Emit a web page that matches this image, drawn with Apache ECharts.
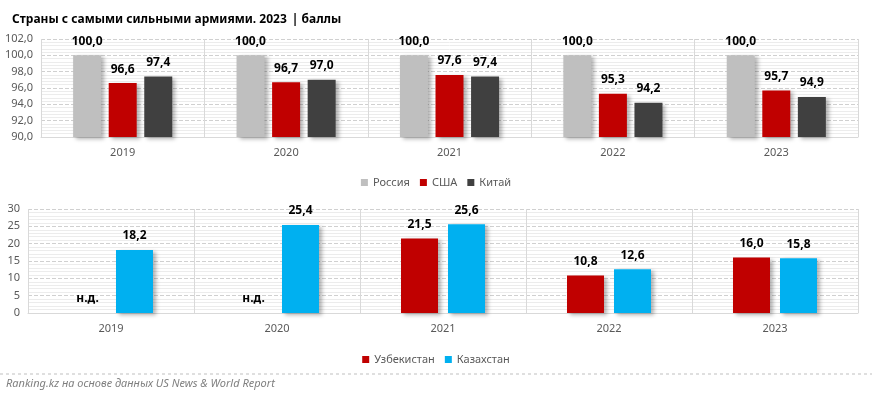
<!DOCTYPE html>
<html>
<head>
<meta charset="utf-8">
<script src="https://cdn.jsdelivr.net/npm/echarts@6/dist/echarts.min.js"></script>
<style>
  html, body { margin: 0; padding: 0; background: #fff; }
  #main { width: 872px; height: 397px; }
</style>
</head>
<body>
<div id="main"></div>
<script>
  // данные
  var years = ['2019', '2020', '2021', '2022', '2023'];
  var russia = [100.0, 100.0, 100.0, 100.0, 100.0];
  var usa = [96.6, 96.7, 97.6, 95.3, 95.7];
  var china = [97.4, 97.0, 97.4, 94.2, 94.9];
  // н.д. = нет данных
  var uzbekistan = [null, null, 21.5, 10.8, 16.0];
  var kazakhstan = [18.2, 25.4, 25.6, 12.6, 15.8];

  var font = 'Noto Sans';
  function comma(v) { return v.toFixed(1).replace('.', ','); }

  var labelTop = {
    show: true, position: 'top', distance: 8,
    fontFamily: font, fontSize: 12, fontWeight: 'bold', color: '#000',
    formatter: function (p) { return p.data === 0 ? 'н.д.' : comma(p.value); }
  };
  var shadow = { shadowColor: 'rgba(0,0,0,0.3)', shadowBlur: 4, shadowOffsetX: 3, shadowOffsetY: 2 };

  function bar(name, data, color, axis, width, gap, catGap) {
    return {
      name: name, type: 'bar', xAxisIndex: axis, yAxisIndex: axis,
      data: data.map(function (v) { return v === null ? 0 : v; }),
      barWidth: width, barGap: gap, barCategoryGap: catGap,
      itemStyle: Object.assign({ color: color }, shadow),
      label: labelTop
    };
  }

  var xAxisBase = {
    type: 'category',
    axisTick: { show: false },
    axisLine: { lineStyle: { color: '#d9d9d9' } },
    splitLine: { show: true, lineStyle: { color: '#d9d9d9' } },
    axisLabel: { fontFamily: font, fontSize: 11, color: '#595959', margin: 10 }
  };
  var yAxisBase = {
    type: 'value',
    axisLine: { show: false },
    axisTick: { show: false },
    splitLine: { lineStyle: { color: '#d0d0d0', type: 'dashed' } },
    minorTick: { show: false, splitNumber: 5 },
    minorSplitLine: { show: true, lineStyle: { color: '#ececec' } },
    axisLabel: { fontFamily: font, fontSize: 11, color: '#595959', margin: 8 }
  };

  var chart = echarts.init(document.getElementById('main'));
  chart.setOption({
    animation: false,
    title: {
      left: 7, top: 6,
      text: '{b|Страны с самыми сильными армиями. 2023} {n|| баллы}',
      textStyle: {
        rich: {
          b: { fontFamily: font, fontSize: 12, fontWeight: 'bold', color: '#000' },
          n: { fontFamily: font, fontSize: 12, color: '#000' }
        }
      }
    },
    legend: [
      {
        data: ['Россия', 'США', 'Китай'], top: 172, left: 'center',
        icon: 'rect', itemWidth: 7, itemHeight: 7, itemGap: 10, itemStyle: { shadowBlur: 0, shadowOffsetX: 0, shadowOffsetY: 0 },
        textStyle: { fontFamily: font, fontSize: 11, color: '#595959' }
      },
      {
        data: ['Узбекистан', 'Казахстан'], top: 349, left: 'center',
        icon: 'rect', itemWidth: 7, itemHeight: 7, itemGap: 10, itemStyle: { shadowBlur: 0, shadowOffsetX: 0, shadowOffsetY: 0 },
        textStyle: { fontFamily: font, fontSize: 11, color: '#595959' }
      }
    ],
    grid: [
      { left: 41, right: 14, top: 39, height: 98 },
      { left: 28, right: 14, top: 209, height: 104 }
    ],
    xAxis: [
      Object.assign({ gridIndex: 0, data: years }, xAxisBase),
      Object.assign({ gridIndex: 1, data: years }, xAxisBase)
    ],
    yAxis: [
      Object.assign({}, yAxisBase, {
        gridIndex: 0, min: 90, max: 102, interval: 2,
        axisLabel: Object.assign({}, yAxisBase.axisLabel, { formatter: function (v) { return comma(v); } })
      }),
      Object.assign({}, yAxisBase, { gridIndex: 1, min: 0, max: 30, interval: 5 })
    ],
    series: [
      bar('Россия', russia, '#bfbfbf', 0, 28, '27%', '38%'),
      bar('США', usa, '#c00000', 0, 28, '27%', '38%'),
      bar('Китай', china, '#404040', 0, 28, '27%', '38%'),
      bar('Узбекистан', uzbekistan, '#c00000', 1, 37, '27%', '49%'),
      bar('Казахстан', kazakhstan, '#00b0f0', 1, 37, '27%', '49%')
    ],
    graphic: [
      {
        type: 'line', shape: { x1: 0, y1: 374, x2: 872, y2: 374 },
        style: { stroke: '#bfbfbf', lineDash: [3, 3], lineWidth: 1 }
      },
      {
        type: 'text', left: 6, top: 378,
        style: { text: 'Ranking.kz на основе данных US News & World Report',
          font: 'italic 11px "Noto Sans"', fill: '#7f7f7f' }
      }
    ]
  });
</script>
</body>
</html>
